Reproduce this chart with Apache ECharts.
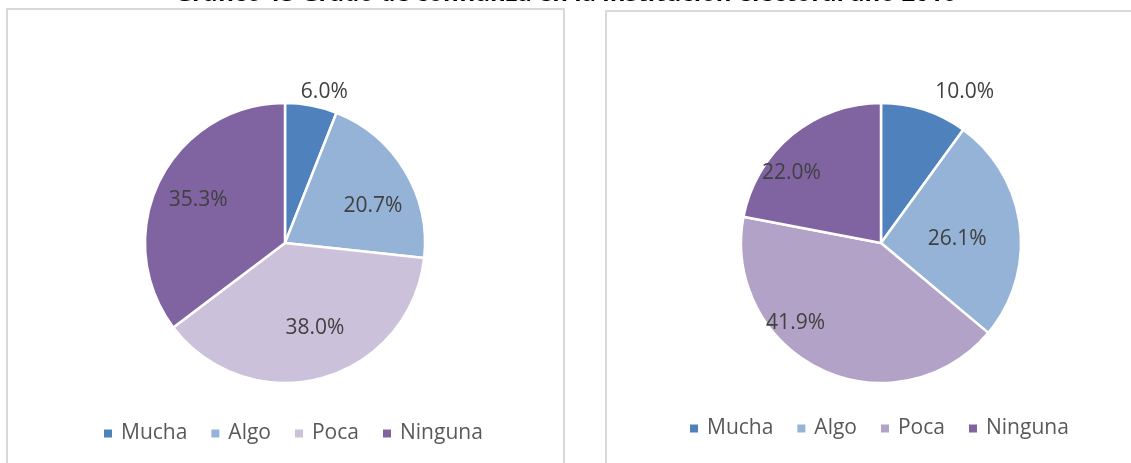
<!DOCTYPE html>
<html>
<head>
<meta charset="utf-8">
<script src="https://cdn.jsdelivr.net/npm/echarts@6/dist/echarts.min.js"></script>
<style>
  html, body { margin: 0; padding: 0; background: #fff; }
  #chart { width: 1131px; height: 463px; }
</style>
</head>
<body>
<div id="chart"></div>
<script>
// datos
const categories = ["Mucha", "Algo", "Poca", "Ninguna"]
const valuesLeft = [6.0, 20.7, 38.0, 35.3]
const valuesRight = [10.0, 26.1, 41.9, 22.0]
const colorsLeft = ["#4F81BD", "#95B3D7", "#CCC1DA", "#8064A2"]
const colorsRight = ["#4F81BD", "#95B3D7", "#B3A2C7", "#8064A2"]
const titleText = "Gráfico 13 Grado de confianza en la institución electoral año 2016"

// pequeños ajustes de posición de etiquetas (estilo, como en Excel)
const nudgeLeft = [[-18, 0], [5, 13], [4, -8], [0, 0]]
const nudgeRight = [[0, 0], [-29, 9], [-40, -16], [-22, 12]]

const FONT = "'Open Sans', 'Noto Sans', sans-serif"

const chart = echarts.init(document.getElementById("chart"))

function pieSeries(values, colors, center) {
  return {
    type: "pie",
    center,
    radius: [0, 140],
    startAngle: 90,
    silent: true,
    animation: false,
    label: { show: false },
    labelLine: { show: false },
    itemStyle: { borderColor: "#fff", borderWidth: 2.5 },
    data: categories.map((name, i) => ({
      name,
      value: values[i],
      itemStyle: { color: colors[i] },
    })),
  }
}

// serie transparente solo para colocar las etiquetas
function labelSeries(values, center, innerR, outsideLen, nudge) {
  return {
    type: "pie",
    center,
    radius: [innerR, 140],
    startAngle: 90,
    silent: true,
    animation: false,
    avoidLabelOverlap: false,
    itemStyle: { color: "rgba(0,0,0,0)" },
    label: {
      show: true,
      position: "inside",
      color: "#404040",
      fontSize: 21,
      fontFamily: FONT,
      formatter: p => p.value.toFixed(1) + "%",
    },
    labelLine: { show: false },
    data: categories.map((name, i) => {
      const item = { name, value: values[i], label: { offset: nudge[i] } }
      if (i === 0) {
        item.label.position = "outside"
        item.labelLine = { show: false, length: outsideLen, length2: 0 }
      }
      return item
    }),
  }
}

function legendFor(colors, left, top) {
  return {
    left,
    top,
    orient: "horizontal",
    icon: "rect",
    itemWidth: 10,
    itemHeight: 10,
    itemGap: 22,
    selectedMode: false,
    textStyle: {
      color: "#595959",
      fontSize: 21,
      fontFamily: FONT,
      padding: [0, 0, 0, 3],
    },
    data: categories.map((name, i) => ({
      name,
      itemStyle: { color: colors[i] },
    })),
  }
}

chart.setOption({
  animation: false,
  title: {
    text: titleText,
    left: "center",
    top: -18,
    padding: 0,
    textStyle: {
      fontFamily: FONT,
      fontSize: 24,
      fontWeight: "bold",
      color: "#000",
    },
  },
  graphic: [
    {
      type: "rect",
      shape: { x: 7, y: 9, width: 557, height: 480 },
      style: { fill: "none", stroke: "#D9D9D9", lineWidth: 2 },
      silent: true,
      z: -1,
    },
    {
      type: "rect",
      shape: { x: 606, y: 11, width: 540, height: 480 },
      style: { fill: "none", stroke: "#D9D9D9", lineWidth: 2 },
      silent: true,
      z: -1,
    },
  ],
  legend: [
    legendFor(colorsLeft, 97, 418),
    legendFor(colorsRight, 683, 413),
  ],
  series: [
    pieSeries(valuesLeft, colorsLeft, [285, 243]),
    pieSeries(valuesRight, colorsRight, [881, 243]),
    labelSeries(valuesLeft, [285, 243], 48, 14, nudgeLeft),
    labelSeries(valuesRight, [881, 243], 66, 19, nudgeRight),
  ],
})
</script>
</body>
</html>
